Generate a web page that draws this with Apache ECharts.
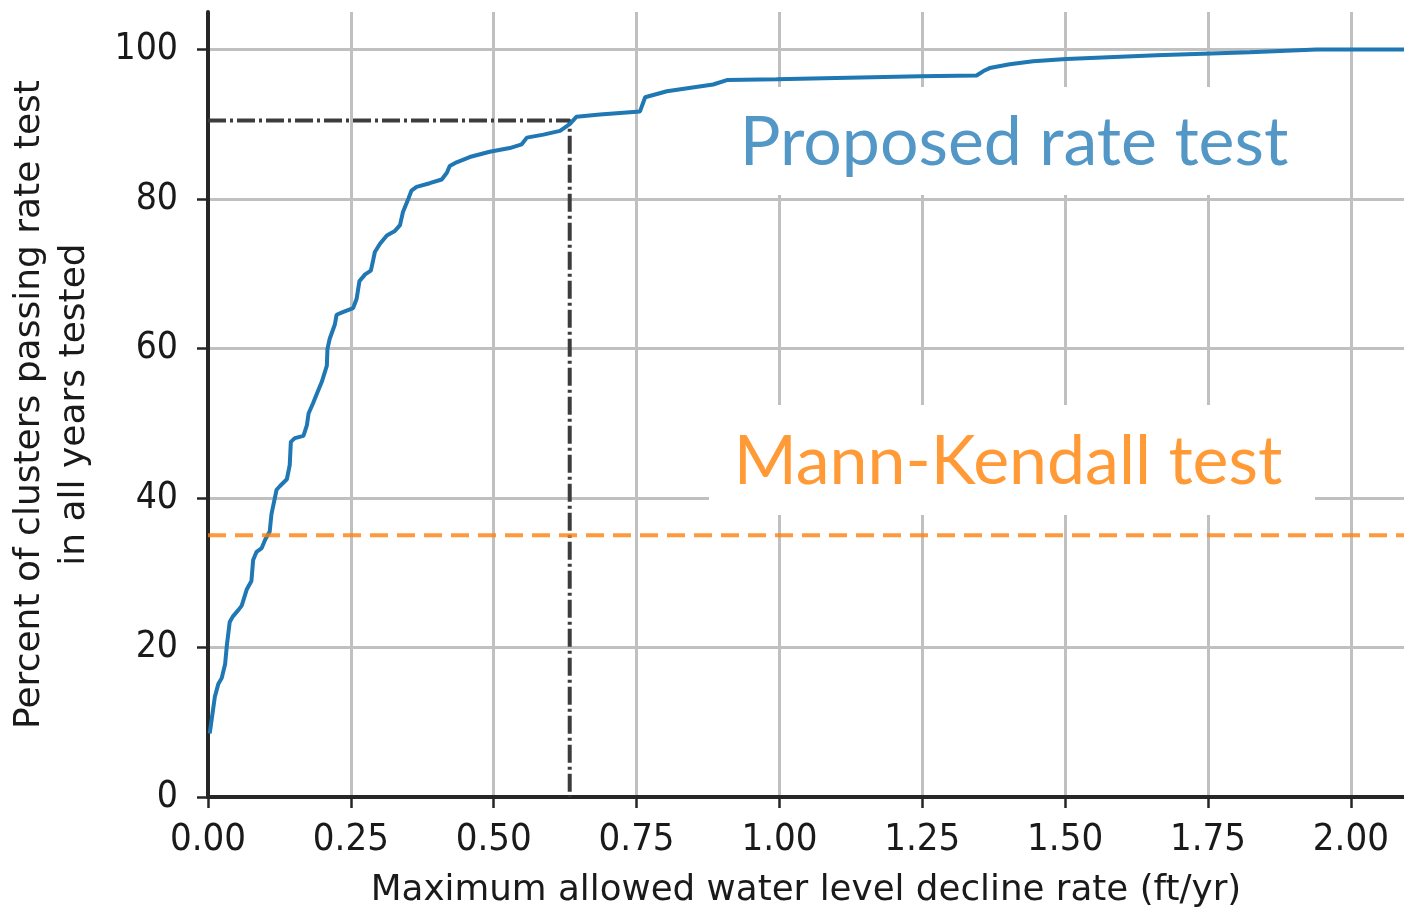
<!DOCTYPE html>
<html>
<head>
<meta charset="utf-8">
<title>Rate test</title>
<script src="https://cdn.jsdelivr.net/npm/echarts@6/dist/echarts.min.js"></script>
<style>
  html, body { margin: 0; padding: 0; background: #fff; }
  #chart { width: 1404px; height: 910px; }
</style>
</head>
<body>
<div id="chart"></div>
<script>
// decline rate (ft/yr) and percent of clusters passing
var rateX = [0.003, 0.012, 0.018, 0.024, 0.030, 0.033, 0.038, 0.044, 0.053, 0.059,
  0.068, 0.076, 0.079, 0.085, 0.094, 0.100, 0.108, 0.111, 0.120, 0.126,
  0.138, 0.143, 0.145, 0.152, 0.167, 0.173, 0.176, 0.184, 0.193, 0.199,
  0.208, 0.209, 0.213, 0.222, 0.225, 0.237, 0.254, 0.260, 0.265, 0.275,
  0.285, 0.289, 0.292, 0.301, 0.313, 0.327, 0.336, 0.341, 0.351, 0.356,
  0.365, 0.388, 0.409, 0.418, 0.423, 0.435, 0.458, 0.493, 0.528, 0.549,
  0.558, 0.587, 0.616, 0.633, 0.645, 0.686, 0.756, 0.765, 0.803, 0.884,
  0.908, 0.995, 1.246, 1.345, 1.357, 1.368, 1.403, 1.444, 1.502, 1.660,
  1.823, 1.940, 2.093];
var passPct = [8.5, 13.4, 15.1, 15.9, 17.8, 20.3, 23.4, 24.2, 25.0, 25.6,
  27.8, 28.9, 31.7, 32.8, 33.3, 34.4, 35.5, 37.8, 41.1, 41.6,
  42.5, 44.4, 47.5, 48.0, 48.3, 49.7, 51.3, 52.7, 54.4, 55.5,
  57.7, 59.9, 61.3, 63.2, 64.5, 64.9, 65.4, 66.6, 69.0, 69.9,
  70.4, 71.8, 72.9, 74.0, 75.1, 75.7, 76.5, 78.2, 80.1, 81.1,
  81.6, 82.1, 82.6, 83.5, 84.4, 84.9, 85.6, 86.3, 86.8, 87.3,
  88.2, 88.6, 89.1, 90.0, 91.0, 91.3, 91.7, 93.6, 94.4, 95.3,
  95.9, 96.0, 96.4, 96.5, 97.1, 97.5, 98.0, 98.4, 98.7, 99.2,
  99.6, 100.0, 100.0];

var mannKendallPct = 35;
var chosenRate = 0.633;
var chosenPct = 90.5;

var xTicks = [0, 0.25, 0.5, 0.75, 1, 1.25, 1.5, 1.75, 2];
var yTicks = [0, 20, 40, 60, 80, 100];

var curve = rateX.map(function(x, i) { return [x, passPct[i]]; });
var guide = [[0, chosenPct], [chosenRate, chosenPct], [chosenRate, 0]];
var mkLine = [[0, mannKendallPct], [2.093, mannKendallPct]];

var tickFont = 'DejaVu Sans Condensed';
var titleFont = 'DejaVu Sans';
var spine = '#262626';

var myChart = echarts.init(document.getElementById('chart'));
var option = {
  animation: false,
  grid: { left: 208, top: 12, right: 0, bottom: 113, outerBoundsMode: 'none', containLabel: false },
  xAxis: [{
    type: 'value',
    min: 0,
    max: 2.093,
    interval: 0.25,
    name: 'Maximum allowed water level decline rate (ft/yr)',
    nameLocation: 'middle',
    nameGap: 76,
    nameTextStyle: { fontFamily: titleFont, fontSize: 35.7, color: '#1a1a1a' },
    axisLine: { show: true, onZero: false, lineStyle: { color: spine, width: 4 } },
    axisTick: { show: true, length: 11, customValues: xTicks, lineStyle: { color: spine, width: 2.5 } },
    axisLabel: {
      margin: 24,
      fontFamily: tickFont,
      fontSize: 38,
      color: '#1a1a1a',
      customValues: xTicks,
      formatter: function(v) { return v.toFixed(2); }
    },
    splitLine: { show: true, lineStyle: { color: '#c0c0c0', width: 3 } }
  }, {
    type: 'value',
    position: 'top',
    min: 0,
    max: 2.093,
    axisLine: { show: true, lineStyle: { color: spine, width: 4 } },
    axisTick: { show: false },
    axisLabel: { show: false },
    splitLine: { show: false }
  }],
  yAxis: {
    type: 'value',
    min: 0,
    max: 105,
    interval: 20,
    name: 'Percent of clusters passing rate test\nin all years tested',
    nameLocation: 'middle',
    nameRotate: 90,
    nameGap: 111,
    nameTextStyle: { fontFamily: titleFont, fontSize: 36, lineHeight: 45, color: '#1a1a1a' },
    axisLine: { show: true, lineStyle: { color: spine, width: 4 } },
    axisTick: { show: true, length: 11, customValues: yTicks, lineStyle: { color: spine, width: 2.5 } },
    axisLabel: {
      margin: 30,
      fontFamily: tickFont,
      fontSize: 37,
      color: '#1a1a1a',
      customValues: yTicks
    },
    splitLine: { show: true, lineStyle: { color: '#c0c0c0', width: 3 } }
  },
  graphic: [
    { type: 'rect', z: 1, shape: { x: 702, y: 87, width: 636, height: 108 }, style: { fill: '#fff' } },
    { type: 'text', z: 1, x: 1014, y: 143, style: {
        text: 'Proposed rate test', fontFamily: 'Lato', fontSize: 68,
        fill: '#5297c6', align: 'center', verticalAlign: 'middle' } },
    { type: 'rect', z: 1, shape: { x: 709, y: 405, width: 606, height: 110 }, style: { fill: '#fff' } },
    { type: 'text', z: 1, x: 1008, y: 462, style: {
        text: 'Mann-Kendall test', fontFamily: 'Lato', fontSize: 68,
        fill: '#ff9a36', align: 'center', verticalAlign: 'middle' } }
  ],
  series: [{
    type: 'line',
    data: guide,
    symbol: 'none',
    silent: true,
    z: 2,
    lineStyle: { color: '#3c3c3c', width: 4, type: [18, 4, 3, 4] }
  }, {
    type: 'line',
    data: curve,
    symbol: 'none',
    z: 3,
    lineStyle: { color: '#1f77b4', width: 4 }
  }, {
    type: 'line',
    data: mkLine,
    symbol: 'none',
    silent: true,
    z: 4,
    lineStyle: { color: 'rgba(255,127,14,0.8)', width: 4, type: [18, 9] }
  }]
};
myChart.setOption(option);
</script>
</body>
</html>
